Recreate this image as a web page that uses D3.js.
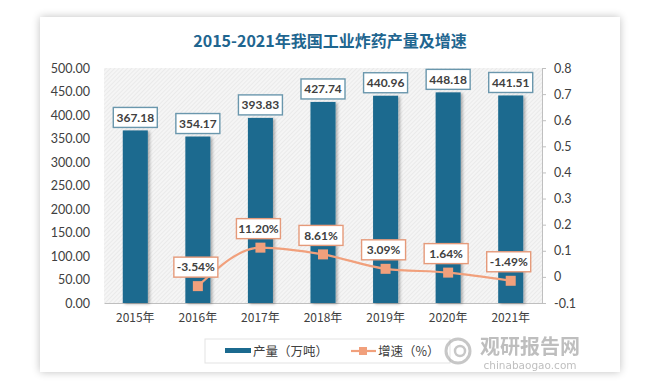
<!DOCTYPE html>
<html>
<head>
<meta charset="utf-8">
<script src="https://cdn.jsdelivr.net/npm/d3@7"></script>
<style>
  body { margin: 0; background: #ffffff; }
  svg { display: block; }
</style>
</head>
<body>
<script>
// data
let years = ["2015年", "2016年", "2017年", "2018年", "2019年", "2020年", "2021年"];
let output = [367.18, 354.17, 393.83, 427.74, 440.96, 448.18, 441.51];
let growth = [null, -0.0354, 0.1120, 0.0861, 0.0309, 0.0164, -0.0149];
let left_ticks = [0, 50, 100, 150, 200, 250, 300, 350, 400, 450, 500];
let right_ticks = [-0.1, 0, 0.1, 0.2, 0.3, 0.4, 0.5, 0.6, 0.7, 0.8];

// colors
let color_bar = "#1b6a8f";
let color_line = "#f1a07c";
let color_text = "#404040";
let color_title = "#1f6690";

let width = 660, height = 386;
let plot = {left: 104, right: 542, top: 68, bottom: 303};
let num_font = "Lato, 'Open Sans', sans-serif";
let cjk_font = "'Noto Sans CJK SC', sans-serif";

// plain hyphen for negatives, as in the original
let fmt = d3.formatLocale({decimal: ".", thousands: ",", grouping: [3], currency: ["", ""], minus: "-"}).format;

let svg = d3.select("body").append("svg")
    .attr("width", width)
    .attr("height", height);

let defs = svg.append("defs");

let shadow = defs.append("filter").attr("id", "card-shadow")
    .attr("x", "-10%").attr("y", "-10%").attr("width", "120%").attr("height", "120%");
shadow.append("feGaussianBlur").attr("in", "SourceAlpha").attr("stdDeviation", 4);
shadow.append("feComponentTransfer").append("feFuncA").attr("type", "linear").attr("slope", 0.25);
let merge = shadow.append("feMerge");
merge.append("feMergeNode");
merge.append("feMergeNode").attr("in", "SourceGraphic");

let bar_shadow = defs.append("filter").attr("id", "bar-shadow")
    .attr("x", "-30%").attr("y", "-10%").attr("width", "160%").attr("height", "120%");
bar_shadow.append("feDropShadow").attr("dx", 2).attr("dy", 1).attr("stdDeviation", 1.5)
    .attr("flood-color", "#000").attr("flood-opacity", 0.3);

let hatch = defs.append("pattern").attr("id", "hatch")
    .attr("patternUnits", "userSpaceOnUse")
    .attr("width", 3).attr("height", 3)
    .attr("patternTransform", "rotate(45)");
hatch.append("rect").attr("width", 3).attr("height", 3).attr("fill", "#f5f5f5");
hatch.append("line").attr("x1", 0).attr("y1", 0).attr("x2", 0).attr("y2", 3)
    .attr("stroke", "#e0e0e0").attr("stroke-width", 1);

// card
svg.append("rect")
    .attr("x", 40).attr("y", 17)
    .attr("width", 580).attr("height", 355)
    .attr("fill", "#fff")
    .attr("filter", "url(#card-shadow)");

// title
svg.append("text")
    .attr("x", 330).attr("y", 47)
    .attr("text-anchor", "middle")
    .attr("font-family", cjk_font)
    .attr("font-weight", "bold")
    .attr("font-size", 16)
    .attr("fill", color_title)
    .text("2015-2021年我国工业炸药产量及增速");

// scales
let x = d3.scaleBand().domain(years).range([plot.left, plot.right]).paddingInner(0.6).paddingOuter(0.3);
let x_band = d3.scaleBand().domain(years).range([plot.left, plot.right]);
let y = d3.scaleLinear().domain([0, 500]).range([plot.bottom, plot.top]);
let y2 = d3.scaleLinear().domain([-0.1, 0.8]).range([plot.bottom, plot.top]);

// plot background
svg.append("rect")
    .attr("x", plot.left).attr("y", plot.top)
    .attr("width", plot.right - plot.left).attr("height", plot.bottom - plot.top)
    .attr("fill", "url(#hatch)");

// left axis
let left_axis = svg.append("g")
    .attr("transform", `translate(${plot.left},0)`)
    .call(d3.axisLeft(y).tickValues(left_ticks).tickFormat(fmt(".2f")).tickSize(0).tickPadding(14));
left_axis.select(".domain").remove();
left_axis.selectAll("text")
    .attr("font-family", num_font).attr("font-size", 12.5).attr("fill", color_text);

// right axis
let right_axis = svg.append("g")
    .attr("transform", `translate(${plot.right},0)`)
    .call(d3.axisRight(y2).tickValues(right_ticks)
        .tickFormat(d => Math.abs(d) < 1e-9 ? "0" : fmt(".1f")(d))
        .tickSize(4).tickPadding(8));
right_axis.select(".domain").attr("stroke", "#bfbfbf");
right_axis.selectAll(".tick line").attr("stroke", "#bfbfbf");
right_axis.selectAll("text")
    .attr("font-family", num_font).attr("font-size", 12.5).attr("fill", color_text);

// bottom axis
let bottom_axis = svg.append("g")
    .attr("transform", `translate(0,${plot.bottom})`)
    .call(d3.axisBottom(x_band).tickSize(0).tickPadding(10));
bottom_axis.select(".domain").attr("stroke", "#bfbfbf");
bottom_axis.selectAll("text")
    .attr("font-family", cjk_font).attr("font-size", 12).attr("fill", color_text);

// bars
svg.append("g").selectAll("rect")
    .data(output)
    .join("rect")
    .attr("x", (d, i) => x(years[i]))
    .attr("y", d => y(d))
    .attr("width", x.bandwidth())
    .attr("height", d => plot.bottom - y(d))
    .attr("fill", color_bar)
    .attr("filter", "url(#bar-shadow)");

// bar labels
let bar_labels = svg.append("g").selectAll("g")
    .data(output)
    .join("g")
    .attr("transform", (d, i) => `translate(${x(years[i]) + x.bandwidth() / 2},${y(d) - 13})`);
bar_labels.append("rect")
    .attr("x", -22).attr("y", -10).attr("width", 44).attr("height", 20)
    .attr("fill", "#fff").attr("stroke", "#6a97ad").attr("stroke-width", 1.4);
bar_labels.append("text")
    .attr("text-anchor", "middle").attr("dy", "0.36em")
    .attr("font-family", num_font).attr("font-weight", "bold").attr("font-size", 12)
    .attr("fill", color_text)
    .text(d => fmt(".2f")(d));

// growth line
let line_pts = growth.map((g, i) => ({year: years[i], g: g})).filter(d => d.g !== null);
let line = d3.line()
    .x(d => x_band(d.year) + x_band.bandwidth() / 2)
    .y(d => y2(d.g))
    .curve(d3.curveMonotoneX);
svg.append("path")
    .datum(line_pts)
    .attr("d", line)
    .attr("fill", "none")
    .attr("stroke", color_line)
    .attr("stroke-width", 2.2);
svg.append("g").selectAll("rect")
    .data(line_pts)
    .join("rect")
    .attr("x", d => x_band(d.year) + x_band.bandwidth() / 2 - 5)
    .attr("y", d => y2(d.g) - 5)
    .attr("width", 10).attr("height", 10)
    .attr("fill", color_line);

// growth labels
let line_labels = svg.append("g").selectAll("g")
    .data(line_pts)
    .join("g")
    .attr("transform", d => `translate(${x_band(d.year) + x_band.bandwidth() / 2 - 2},${y2(d.g) - 19})`);
line_labels.append("rect")
    .attr("x", -22).attr("y", -10).attr("width", 44).attr("height", 20)
    .attr("fill", "#fff").attr("stroke", "#e59a7a").attr("stroke-width", 1.4);
line_labels.append("text")
    .attr("text-anchor", "middle").attr("dy", "0.36em")
    .attr("font-family", num_font).attr("font-weight", "bold").attr("font-size", 12)
    .attr("fill", color_text)
    .text(d => fmt(".2f")(d.g * 100) + "%");

// legend
let legend = svg.append("g");
legend.append("rect")
    .attr("x", 205).attr("y", 339).attr("width", 245).attr("height", 24)
    .attr("fill", "#fff").attr("stroke", "#e3e3e3");
legend.append("rect")
    .attr("x", 225).attr("y", 348).attr("width", 26).attr("height", 5)
    .attr("fill", color_bar);
legend.append("text")
    .attr("x", 253).attr("y", 356)
    .attr("font-family", cjk_font).attr("font-size", 12.5).attr("fill", color_text)
    .text("产量（万吨）");
legend.append("line")
    .attr("x1", 351).attr("x2", 376).attr("y1", 351).attr("y2", 351)
    .attr("stroke", color_line).attr("stroke-width", 2.2);
legend.append("rect")
    .attr("x", 359).attr("y", 347).attr("width", 8).attr("height", 8)
    .attr("fill", color_line);
legend.append("text")
    .attr("x", 378).attr("y", 356)
    .attr("font-family", cjk_font).attr("font-size", 12.5).attr("fill", color_text)
    .text("增速（%）");

// watermark
let wm = svg.append("g").attr("opacity", 0.55);
wm.append("circle").attr("cx", 458).attr("cy", 351).attr("r", 12)
    .attr("fill", "none").attr("stroke", "#9a9a9a").attr("stroke-width", 3);
wm.append("circle").attr("cx", 460).attr("cy", 351).attr("r", 5)
    .attr("fill", "none").attr("stroke", "#9a9a9a").attr("stroke-width", 2.5);
wm.append("text")
    .attr("x", 530).attr("y", 354)
    .attr("text-anchor", "middle")
    .attr("font-family", cjk_font).attr("font-weight", "bold").attr("font-size", 20)
    .attr("fill", "#8a8a8a")
    .text("观研报告网");
wm.append("text")
    .attr("x", 530).attr("y", 369)
    .attr("text-anchor", "middle")
    .attr("font-family", "'DejaVu Sans', sans-serif").attr("font-size", 10.5)
    .attr("fill", "#8a8a8a")
    .text("chinabaogao.com");
</script>
</body>
</html>
